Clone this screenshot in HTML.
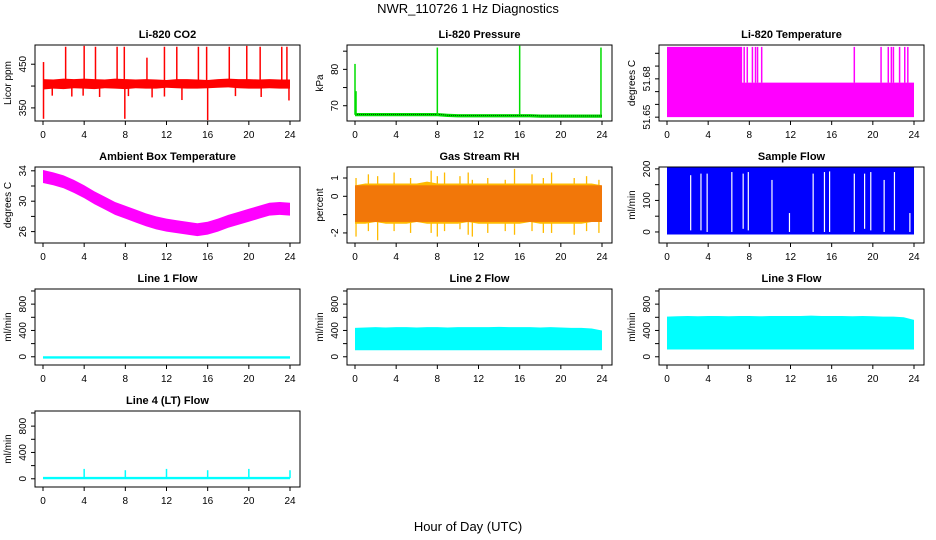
<!DOCTYPE html>
<html><head><meta charset="utf-8"><style>
html,body{margin:0;padding:0;background:#fff}
svg{display:block;font-family:"Liberation Sans",Arial,sans-serif}
</style></head><body>
<svg id="chart" width="936" height="540" viewBox="0 0 936 540" xmlns="http://www.w3.org/2000/svg">
<text x="468" y="13" font-size="13" text-anchor="middle">NWR_110726  1 Hz Diagnostics</text>
<text x="468" y="531" font-size="13" text-anchor="middle">Hour of Day (UTC)</text>
</svg>
<script>
// ---- data ----
const xTicks = [0,4,8,12,16,20,24];
const hours = [0,1,2,3,4,5,6,7,8,9,10,11,12,13,14,15,16,17,18,19,20,21,22,23,24];
// CO2
const co2Lo = [392,394,393,395,394,393,395,394,393,395,394,394,396,395,394,394,395,396,397,395,394,394,395,394,394];
const co2Hi = [416,415,417,416,417,416,415,417,416,415,416,415,414,416,416,415,414,416,417,416,416,415,416,415,415];
const co2SpikeHours = [0.05,2.2,4.0,5.1,7.2,7.9,10.1,11.8,13.0,15.1,15.9,18.1,19.8,21.1,23.2,23.7];
const co2SpikeHi = [455,490,492,490,490,490,465,490,490,490,490,490,492,490,490,490];
const co2DipHours = [0.05,0.9,2.8,3.9,5.5,7.95,8.3,10.6,11.8,13.5,16.0,18.7,21.2,23.9];
const co2DipLo = [325,378,376,378,375,325,377,374,376,368,322,377,375,367];
// Pressure
const presBase = [67.6,67.6,67.6,67.6,67.6,67.6,67.6,67.6,67.6,67.4,67.3,67.3,67.3,67.3,67.3,67.3,67.3,67.3,67.2,67.2,67.2,67.2,67.2,67.2,67.2];
const presSpikeHours = [0.0,0.1,8.0,16.0,23.9];
const presSpikeHi = [81.5,74,86,86.5,86];
// Li-820 temperature
const tempHours = [0,7.3,7.3,24];
const tempHi = [51.705,51.705,51.677,51.677];
const tempSpikeHours = [7.5,7.8,8.3,8.6,8.8,9.2,18.2,20.8,21.5,21.8,22.0,22.6,23.1,23.4];
// Ambient box temperature (center values)
const ambMid = [33.3,33.0,32.6,32.0,31.3,30.5,29.8,29.1,28.6,28.1,27.6,27.2,26.9,26.7,26.5,26.3,26.5,26.9,27.4,27.8,28.2,28.6,29.0,29.1,29.0];
// Gas stream RH
const rhLo = [-1.5,-1.5,-1.4,-1.5,-1.5,-1.5,-1.4,-1.5,-1.5,-1.5,-1.5,-1.4,-1.5,-1.5,-1.5,-1.5,-1.5,-1.4,-1.5,-1.5,-1.5,-1.5,-1.5,-1.4,-1.4];
const rhHi = [0.6,0.7,0.7,0.7,0.7,0.7,0.7,0.8,0.7,0.7,0.7,0.7,0.7,0.7,0.7,0.7,0.7,0.7,0.7,0.7,0.7,0.7,0.7,0.7,0.6];
const rhSpikeHours = [0.1,1.3,2.2,3.8,5.4,7.4,8.0,8.7,10.2,11.0,11.4,12.9,14.6,15.5,17.2,18.3,19.1,21.3,22.5,23.7];
const rhSpikeHi = [1.0,1.2,1.1,1.3,1.0,1.4,1.1,1.3,1.1,1.3,0.9,1.0,0.9,1.5,1.2,1.0,1.3,1.0,1.1,0.9];
const rhSpikeLo = [-2.2,-1.9,-2.4,-1.9,-2.0,-2.0,-2.2,-1.9,-1.8,-2.1,-2.2,-2.0,-1.9,-2.1,-1.9,-2.0,-2.0,-2.1,-1.9,-2.0];
// Sample flow
const flowLo = -8, flowHi = 206;
const flowGapHours = [2.3,3.3,3.9,6.3,7.4,7.9,10.2,11.9,14.2,15.3,15.8,18.2,19.2,19.8,21.1,22.1,23.6];
const flowGapLo = [5,5,0,0,10,5,0,0,0,0,0,0,10,5,0,5,0];
const flowGapHi = [180,185,185,190,185,190,165,60,185,190,192,185,185,190,165,190,60];
// Line flows
const line1Val = -10;
const line2Lo = 100, line2Hi = [440,445,450,445,450,450,445,450,450,445,450,450,450,450,455,450,450,450,445,450,445,440,440,430,400];
const line3Lo = 110, line3Hi = [610,615,620,615,620,620,615,620,620,615,620,620,620,620,625,620,620,620,615,620,615,610,610,600,560];
const line4Val = 10;
const line4SpikeHours = [4,8,12,16,20,24];
const line4SpikeHi = [150,130,150,130,150,130];

// ---- layout ----
const svg = document.getElementById('chart');
const NS = 'http://www.w3.org/2000/svg';
const colL = [35,347,659], W = 265, H = 76;
function mk(tag, attrs, parent){const e=document.createElementNS(NS,tag);for(const k in attrs)e.setAttribute(k,attrs[k]);(parent||svg).appendChild(e);return e;}
function panel(col,row,title,ylab,ylim,ticks,labels,name){
  const L=colL[col], T=45+122*row;
  const g=mk('g',{});
  
  
  const sx=h=>L+8+h*247/24;
  const sy=v=>T+H-(v-ylim[0])/(ylim[1]-ylim[0])*H;
  const plot=mk('g',{},g);
  
  
  const box=mk('rect',{x:L,y:T,width:W,height:H,fill:'none',stroke:'#000','stroke-width':1},g);
  
  
  const t=mk('text',{x:L+W/2,y:T-7,'font-size':11,'font-weight':'bold','text-anchor':'middle'},g);
  
  
  t.textContent=title;
  xTicks.forEach(h=>{
    const tk=mk('line',{x1:sx(h),x2:sx(h),y1:T+H,y2:T+H+4,stroke:'#000'},g);
    
    
    const tl=mk('text',{x:sx(h),y:T+H+17,'font-size':10,'text-anchor':'middle'},g);
    
    
    tl.textContent=h;
  });
  ticks.forEach(v=>{
    const tk=mk('line',{x1:L-4,x2:L,y1:sy(v),y2:sy(v),stroke:'#000'},g);
    
    
  });
  labels.forEach(v=>{
    const tl=mk('text',{x:0,y:0,'font-size':10,'text-anchor':'middle',transform:`translate(${L-9},${sy(v)}) rotate(-90)`},g);
    
    
    tl.textContent=v;
  });
  const yl=mk('text',{x:0,y:0,'font-size':10,'text-anchor':'middle',transform:`translate(${L-24},${T+H/2}) rotate(-90)`},g);
  
  
  yl.textContent=ylab;
  return {g:plot,sx,sy};
}
function band(p,xs,lo,hi,color,name){
  let pts=xs.map((h,i)=>p.sx(h)+','+p.sy(Array.isArray(hi)?hi[i]:hi));
  for(let i=xs.length-1;i>=0;i--)pts.push(p.sx(xs[i])+','+p.sy(Array.isArray(lo)?lo[i]:lo));
  const e=mk('polygon',{points:pts.join(' '),fill:color},p.g);
  
  
}
function vline(p,h,a,b,color,w,name){
  const e=mk('line',{x1:p.sx(h),x2:p.sx(h),y1:p.sy(a),y2:p.sy(b),stroke:color,'stroke-width':w||1.3},p.g);
  
  
}

// CO2
let p=panel(0,0,'Li-820 CO2','Licor ppm',[320,494],[350,400,450],[350,450],'co2');
band(p,hours,co2Lo,co2Hi,'#ff0000','co2-band');
co2SpikeHours.forEach((h,i)=>vline(p,h,400,co2SpikeHi[i],'#ff0000',1.5,'co2-spike'));
co2DipHours.forEach((h,i)=>vline(p,h,co2DipLo[i],400,'#ff0000',1.5,'co2-dip'));
// Pressure
p=panel(1,0,'Li-820 Pressure','kPa',[65.8,86.7],[70,75,80,85],[70,80],'pressure');
band(p,hours,presBase.map(v=>v-0.5),presBase.map(v=>v+0.4),'#00dd00','pressure-band');
const pl=mk('polyline',{points:hours.map((h,i)=>p.sx(h)+','+p.sy(presBase[i])).join(' '),fill:'none',stroke:'#000','stroke-width':0.6,'stroke-dasharray':'1 1'},p.g);


presSpikeHours.forEach((h,i)=>vline(p,h,67.5,presSpikeHi[i],'#00dd00',1.5,'pressure-spike'));
// Li-820 temp
p=panel(2,0,'Li-820 Temperature','degrees C',[51.647,51.7065],[51.65,51.66,51.67,51.68,51.69,51.70],[51.65,51.68],'licor-temp');
band(p,tempHours,51.65,tempHi,'#ff00ff','licor-temp-fill');
tempSpikeHours.forEach(h=>vline(p,h,51.677,51.705,'#ff00ff',1.5,'licor-temp-spike'));
// Ambient
p=panel(0,1,'Ambient Box Temperature','degrees C',[24.5,34.5],[26,28,30,32,34],[26,30,34],'ambient-temp');
band(p,hours,ambMid.map(v=>v-0.9),ambMid.map(v=>v+0.8),'#ff00ff','ambient-temp-band');
// RH
p=panel(1,1,'Gas Stream RH','percent',[-2.55,1.6],[-2,-1,0,1],[-2,0,1],'rh');
band(p,hours,rhLo,rhHi,'#ffbb00','rh-band');
rhSpikeHours.forEach((h,i)=>{vline(p,h,0,rhSpikeHi[i],'#ffbb00',1.3,'rh-spike');vline(p,h,rhSpikeLo[i],0,'#ffbb00',1.3,'rh-spike');});
const pat=mk('rect',{x:p.sx(0),y:p.sy(0.6),width:p.sx(24)-p.sx(0),height:p.sy(-1.4)-p.sy(0.6),fill:'#e84010',opacity:0.55},p.g);


// Sample flow
p=panel(2,1,'Sample Flow','ml/min',[-35,206],[0,50,100,150,200],[0,100,200],'sample-flow');
band(p,[0,24],flowLo,flowHi,'#0000ff','sample-flow-fill');
flowGapHours.forEach((h,i)=>vline(p,h,flowGapLo[i],flowGapHi[i],'#ffffff',1.2,'sample-flow-gap'));
// Line flows
const fT=[0,200,400,600,800,1000], fL=[0,400,800], fLim=[-125,1030];
p=panel(0,2,'Line 1 Flow','ml/min',fLim,fT,fL,'line1-flow');
band(p,[0,24],line1Val-18,line1Val+18,'#00ffff','line1-flow-line');
p=panel(1,2,'Line 2 Flow','ml/min',fLim,fT,fL,'line2-flow');
band(p,hours,line2Lo,line2Hi,'#00ffff','line2-flow-band');
p=panel(2,2,'Line 3 Flow','ml/min',fLim,fT,fL,'line3-flow');
band(p,hours,line3Lo,line3Hi,'#00ffff','line3-flow-band');
p=panel(0,3,'Line 4 (LT) Flow','ml/min',fLim,fT,fL,'line4-flow');
band(p,[0,24],line4Val-18,line4Val+18,'#00ffff','line4-flow-line');
line4SpikeHours.forEach((h,i)=>vline(p,h,line4Val,line4SpikeHi[i],'#00ffff',1.5,'line4-flow-spike'));
</script>
</body></html>
